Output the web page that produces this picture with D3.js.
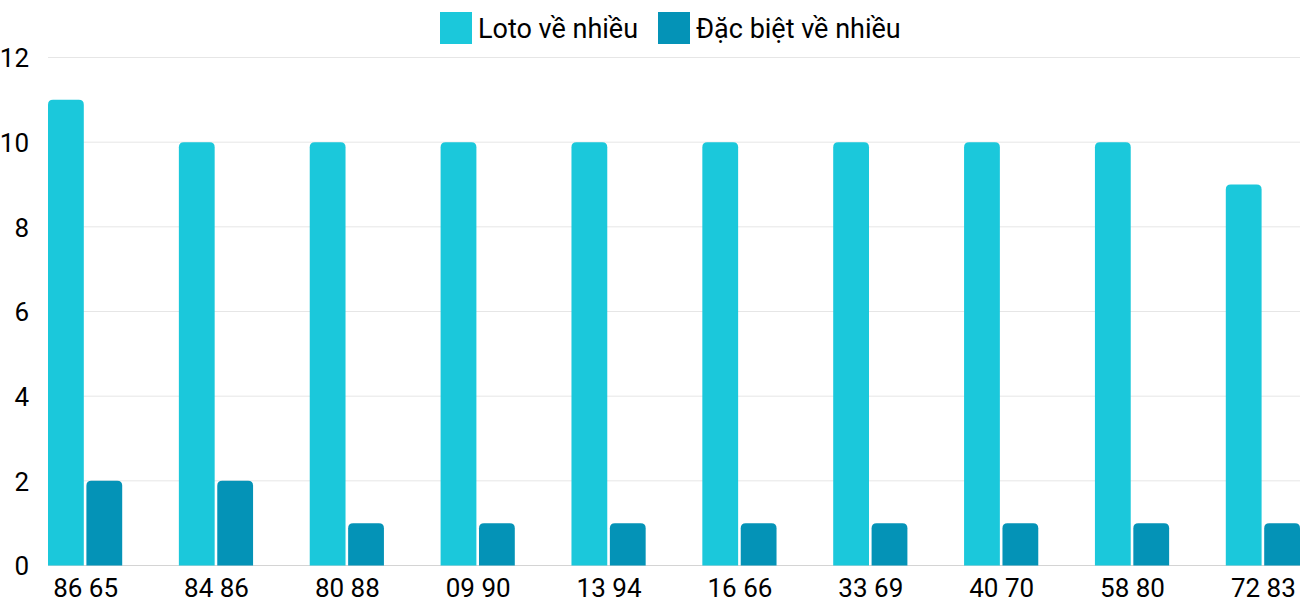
<!DOCTYPE html>
<html>
<head>
<meta charset="utf-8">
<script src="https://cdn.jsdelivr.net/npm/d3@7"></script>
<style>
  body { margin: 0; background: #fff; }
  svg { display: block; font-family: Roboto, sans-serif; }
</style>
</head>
<body>
<div id="chart"></div>
<script>
const categories = ["86 65", "84 86", "80 88", "09 90", "13 94", "16 66", "33 69", "40 70", "58 80", "72 83"]
const lotoValues = [11, 10, 10, 10, 10, 10, 10, 10, 10, 9]
const dacBietValues = [2, 2, 1, 1, 1, 1, 1, 1, 1, 1]
const seriesNames = ["Loto về nhiều", "Đặc biệt về nhiều"]
const seriesColors = ["#1bc8db", "#0493b7"]
const yTicks = [0, 2, 4, 6, 8, 10, 12]

const w = 1300
const h = 600
const plotLeft = 48
const plotRight = 1300
const plotTop = 57.5
const plotBottom = 565.5
const barW = 35.8
const barGap = 2.6

const svg = d3.select("#chart")
  .append("svg")
  .attr("width", w)
  .attr("height", h)

const yScale = d3.scaleLinear()
  .domain([0, 12])
  .range([plotBottom, plotTop])

// group centres: first group starts at the left edge, last ends at the right edge
const half = barW + barGap / 2
const xScale = d3.scalePoint()
  .domain(categories)
  .range([plotLeft + half, plotRight - half])

// gridlines
svg.append("g")
  .selectAll("line")
  .data(yTicks)
  .enter()
  .append("line")
  .attr("x1", plotLeft)
  .attr("x2", plotRight)
  .attr("y1", d => yScale(d))
  .attr("y2", d => yScale(d))
  .attr("stroke", d => d === 0 ? "#d4d4d4" : "#e6e6e6")
  .attr("stroke-width", 1)

// y tick labels
const yAxis = d3.axisLeft(yScale).tickValues(yTicks).tickSize(0).tickPadding(0)
svg.append("g")
  .attr("transform", `translate(29,0)`)
  .call(yAxis)
  .call(g => g.select(".domain").remove())
  .call(g => g.selectAll("text")
    .attr("font-family", "Roboto, sans-serif")
    .attr("font-size", 26)
    .attr("fill", "#000")
    .attr("dy", "0.36em"))

// x labels
const xAxis = d3.axisBottom(xScale).tickSize(0).tickPadding(0)
svg.append("g")
  .attr("transform", `translate(0,${plotBottom})`)
  .call(xAxis)
  .call(g => g.select(".domain").remove())
  .call(g => g.selectAll("text")
    .attr("font-family", "Roboto, sans-serif")
    .attr("font-size", 26)
    .attr("fill", "#000")
    .attr("dy", null)
    .attr("y", 31.5))

// rounded-top bar path
function barPath(x, y, bw, bh, r) {
  r = Math.min(r, bh, bw / 2)
  return `M${x},${y + bh}V${y + r}Q${x},${y} ${x + r},${y}H${x + bw - r}Q${x + bw},${y} ${x + bw},${y + r}V${y + bh}Z`
}

const seriesData = [lotoValues, dacBietValues]
seriesData.forEach((vals, s) => {
  svg.append("g")
    .selectAll("path")
    .data(vals)
    .enter()
    .append("path")
    .attr("d", (d, i) => {
      const cx = xScale(categories[i])
      const x = s === 0 ? cx - half : cx + barGap / 2
      const y = yScale(d)
      return barPath(x, y, barW, plotBottom - y, 5)
    })
    .attr("fill", seriesColors[s])
})

// legend
const legendX = [440, 658]
const legend = svg.append("g")
seriesNames.forEach((name, i) => {
  legend.append("rect")
    .attr("x", legendX[i])
    .attr("y", 12)
    .attr("width", 32)
    .attr("height", 32)
    .attr("fill", seriesColors[i])
  legend.append("text")
    .attr("x", legendX[i] + 38)
    .attr("y", 38)
    .attr("font-size", 27)
    .attr("fill", "#000")
    .text(name)
})
</script>
</body>
</html>
